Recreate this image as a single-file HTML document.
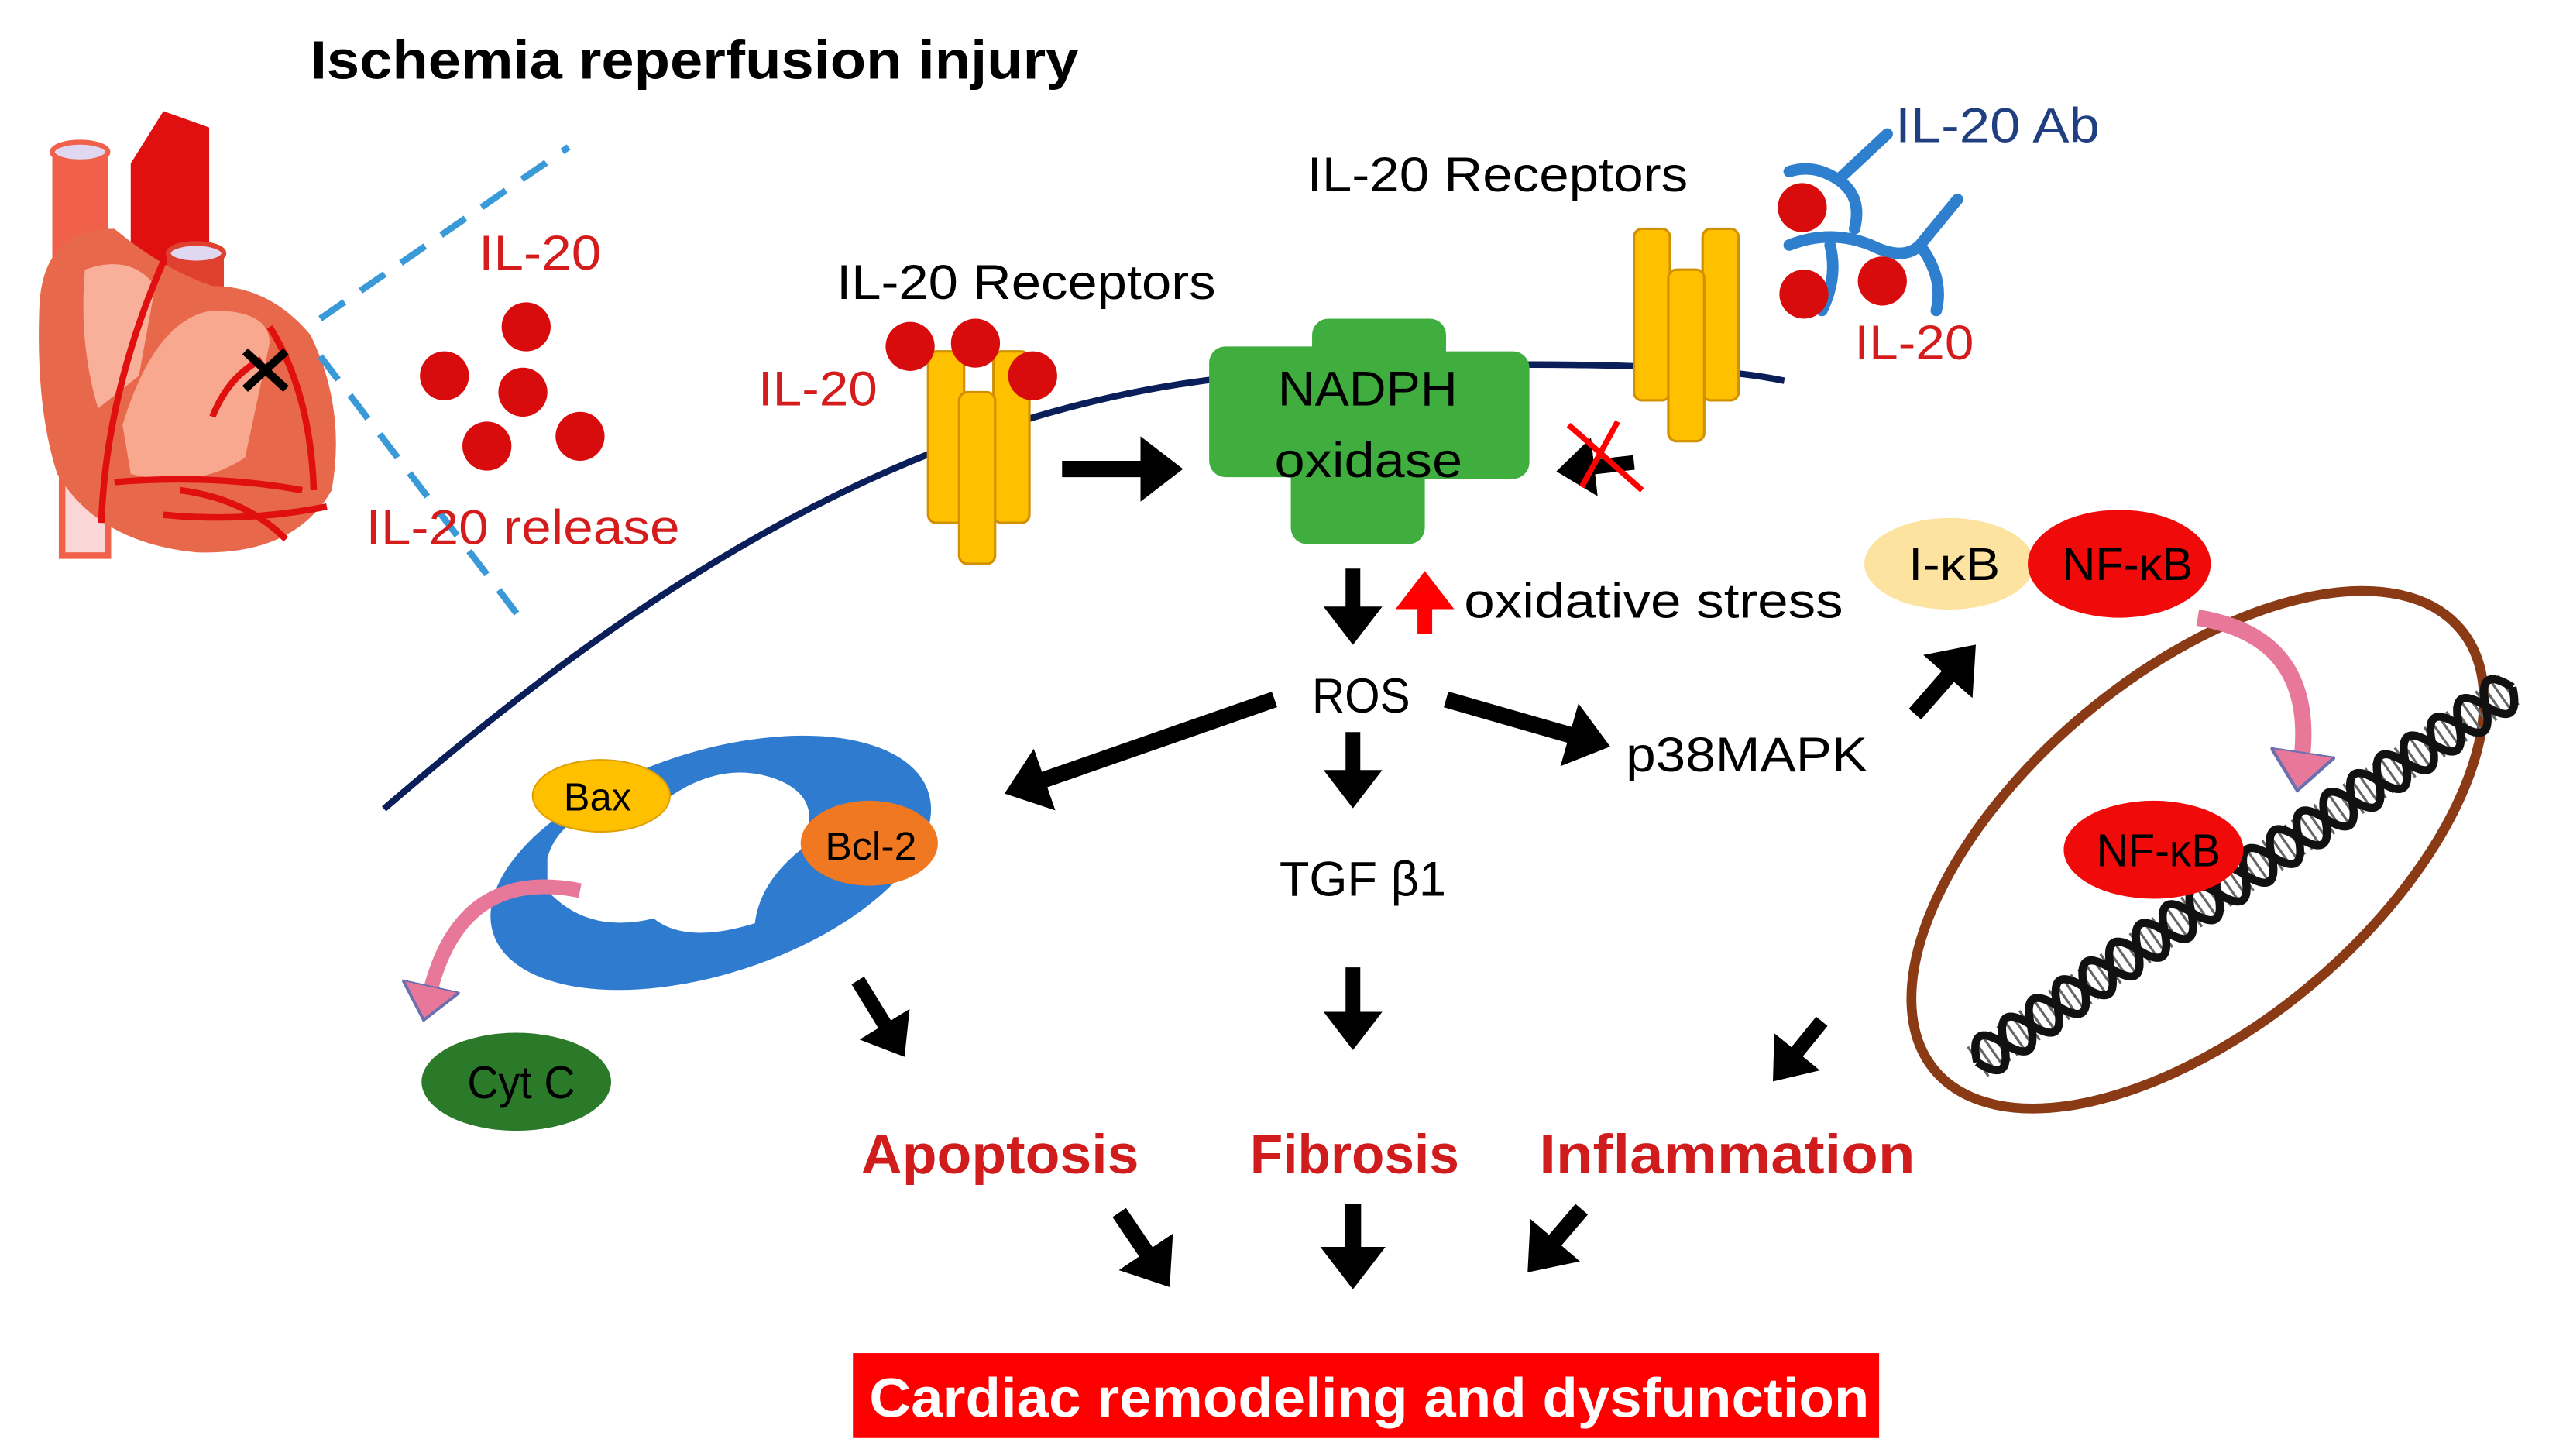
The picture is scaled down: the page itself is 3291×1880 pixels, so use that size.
<!DOCTYPE html>
<html><head><meta charset="utf-8"><style>
html,body{margin:0;padding:0;background:#fff;}
svg{display:block;}
text{font-family:"Liberation Sans Narrow","Liberation Sans",sans-serif;}
</style></head><body>
<svg width="3291" height="1880" viewBox="0 0 1560 891" preserveAspectRatio="none" xmlns="http://www.w3.org/2000/svg">
<defs>
<marker id="ah" markerWidth="4" markerHeight="4" refX="1.2" refY="2" orient="auto" markerUnits="strokeWidth"><path d="M0,0 L2.6,2 L0,4 Z" fill="#000"/></marker>
<marker id="ahr" markerWidth="4" markerHeight="4" refX="1.2" refY="2" orient="auto" markerUnits="strokeWidth"><path d="M0,0 L2.6,2 L0,4 Z" fill="#f00"/></marker>
<marker id="ahp" markerWidth="4" markerHeight="4" refX="1" refY="2" orient="auto" markerUnits="strokeWidth"><path d="M0,0 L2.4,2 L0,4 Z" fill="#e8789a" stroke="#6a6fb0" stroke-width="0.2"/></marker>
</defs>

<text x="190" y="48" font-size="33" font-weight="bold" textLength="470" lengthAdjust="spacingAndGlyphs">Ischemia reperfusion injury</text>

<!-- heart -->
<g>
<rect x="32" y="92" width="34" height="115" fill="#f0604a"/>
<ellipse cx="49" cy="93" rx="17" ry="6" fill="#e0d8f0" stroke="#f0604a" stroke-width="3"/>
<path d="M80,100 L100,68 L128,78 L128,200 L80,200 Z" fill="#e01010"/>
<rect x="38" y="280" width="28" height="60" fill="#fbd6d6" stroke="#f0604a" stroke-width="4"/>
<rect x="102" y="155" width="35" height="40" fill="#e04030"/>
<ellipse cx="120" cy="155" rx="17" ry="6" fill="#e0d8f0" stroke="#e04030" stroke-width="3"/>
<path d="M24,190 Q25,140 70,140 Q100,165 130,175 Q165,175 190,205 Q212,250 203,300 Q180,340 120,338 Q60,332 35,290 Q22,250 24,190 Z" fill="#e8684c"/>
<path d="M52,165 Q80,155 95,175 L85,230 L60,250 Q48,210 52,165 Z" fill="#f9b09a"/>
<path d="M75,260 Q95,195 130,190 Q165,190 165,210 L150,280 Q120,300 80,290 Z" fill="#f9a890"/>
<path d="M62,320 Q65,240 100,160 M70,295 Q130,290 185,300 M100,315 Q150,320 200,310 M165,200 Q190,240 192,300 M160,220 Q140,230 130,255 M110,300 Q150,305 175,330" stroke="#e01010" stroke-width="4" fill="none"/>
<path d="M150,215 L175,238 M175,215 L150,238" stroke="#000" stroke-width="5"/>
</g>

<!-- dashed lines -->
<path d="M196,195 L348,90" stroke="#3a9ad8" stroke-width="4" stroke-dasharray="18,12" fill="none"/>
<path d="M196,218 L322,383" stroke="#3a9ad8" stroke-width="4" stroke-dasharray="18,12" fill="none"/>

<text x="293" y="165" font-size="30" fill="#d41c1c" textLength="75" lengthAdjust="spacingAndGlyphs">IL-20</text>
<g fill="#d80c0c"><circle cx="322" cy="200" r="15"/><circle cx="272" cy="230" r="15"/><circle cx="320" cy="240" r="15"/><circle cx="298" cy="273" r="15"/><circle cx="355" cy="267" r="15"/></g>
<text x="224" y="333" font-size="30" fill="#d41c1c" textLength="192" lengthAdjust="spacingAndGlyphs">IL-20 release</text>

<!-- membrane -->
<path d="M235,495 C380,370 560,240 790,228 C920,220 1040,222 1092,233" stroke="#0a1e5a" stroke-width="4" fill="none"/>

<!-- left receptors -->
<g fill="#ffc000" stroke="#d09000" stroke-width="1.5">
<rect x="568" y="215" width="22" height="105" rx="5"/>
<rect x="608" y="215" width="22" height="105" rx="5"/>
<rect x="587" y="240" width="22" height="105" rx="5"/>
</g>
<g fill="#d80c0c"><circle cx="557" cy="212" r="15"/><circle cx="597" cy="210" r="15"/><circle cx="632" cy="230" r="15"/></g>
<text x="512" y="183" font-size="30" fill="#000" textLength="232" lengthAdjust="spacingAndGlyphs">IL-20 Receptors</text>
<text x="464" y="248" font-size="30" fill="#d41c1c" textLength="73" lengthAdjust="spacingAndGlyphs">IL-20</text>

<line x1="650" y1="287" x2="710" y2="287" stroke="#000" stroke-width="10" marker-end="url(#ah)"/>

<!-- NADPH -->
<g fill="#3fae3f">
<rect x="740" y="212" width="120" height="80" rx="10"/>
<rect x="803" y="195" width="82" height="65" rx="10"/>
<rect x="850" y="215" width="86" height="78" rx="10"/>
<rect x="790" y="255" width="82" height="78" rx="10"/>
</g>
<text x="782" y="248" font-size="30" fill="#000" textLength="110" lengthAdjust="spacingAndGlyphs">NADPH</text>
<text x="780" y="292" font-size="30" fill="#000" textLength="115" lengthAdjust="spacingAndGlyphs">oxidase</text>

<!-- blocked arrow -->
<line x1="1000" y1="283" x2="965" y2="287" stroke="#000" stroke-width="9" marker-end="url(#ah)"/>
<path d="M960,260 L1005,300 M990,258 L968,298" stroke="#f00" stroke-width="3.5"/>

<!-- right receptors -->
<g fill="#ffc000" stroke="#d09000" stroke-width="1.5">
<rect x="1000" y="140" width="22" height="105" rx="5"/>
<rect x="1042" y="140" width="22" height="105" rx="5"/>
<rect x="1021" y="165" width="22" height="105" rx="5"/>
</g>
<text x="800" y="117" font-size="30" fill="#000" textLength="233" lengthAdjust="spacingAndGlyphs">IL-20 Receptors</text>
<text x="1160" y="87" font-size="30" fill="#1f3f80" textLength="125" lengthAdjust="spacingAndGlyphs">IL-20 Ab</text>
<g stroke="#2f7fcf" stroke-width="7" fill="none" stroke-linecap="round">
<path d="M1095,105 Q1110,100 1125,110 L1155,82 M1125,110 Q1140,120 1135,140"/>
<path d="M1095,150 Q1120,140 1145,150 Q1165,160 1175,150 L1198,122 M1175,150 Q1190,170 1185,190 M1120,150 Q1125,170 1115,190"/>
</g>
<g fill="#d80c0c"><circle cx="1103" cy="127" r="15"/><circle cx="1104" cy="180" r="15"/><circle cx="1152" cy="172" r="15"/></g>
<text x="1135" y="220" font-size="30" fill="#d41c1c" textLength="73" lengthAdjust="spacingAndGlyphs">IL-20</text>

<!-- ROS region -->
<line x1="828" y1="348" x2="828" y2="382" stroke="#000" stroke-width="9" marker-end="url(#ah)"/>
<line x1="872" y1="388" x2="872" y2="362" stroke="#f00" stroke-width="9" marker-end="url(#ahr)"/>
<text x="896" y="378" font-size="30" fill="#000" textLength="232" lengthAdjust="spacingAndGlyphs">oxidative stress</text>
<text x="803" y="436" font-size="30" fill="#000" textLength="60" lengthAdjust="spacingAndGlyphs">ROS</text>
<line x1="780" y1="428" x2="628" y2="481" stroke="#000" stroke-width="10" marker-end="url(#ah)"/>
<line x1="828" y1="448" x2="828" y2="482" stroke="#000" stroke-width="9" marker-end="url(#ah)"/>
<line x1="885" y1="428" x2="972" y2="453" stroke="#000" stroke-width="10" marker-end="url(#ah)"/>
<text x="995" y="472" font-size="30" fill="#000" textLength="148" lengthAdjust="spacingAndGlyphs">p38MAPK</text>
<line x1="1172" y1="437" x2="1200" y2="405" stroke="#000" stroke-width="10" marker-end="url(#ah)"/>

<!-- NF-kB top -->
<ellipse cx="1193" cy="345" rx="52" ry="28" fill="#fde3a0"/>
<ellipse cx="1297" cy="345" rx="56" ry="33" fill="#f00a0a"/>
<text x="1168" y="355" font-size="28" fill="#000" textLength="56" lengthAdjust="spacingAndGlyphs">I-κB</text>
<text x="1262" y="355" font-size="28" fill="#000" textLength="80" lengthAdjust="spacingAndGlyphs">NF-κB</text>

<!-- nucleus -->
<ellipse cx="1345" cy="520" rx="210" ry="108" transform="rotate(-40 1345 520)" fill="none" stroke="#8a3a14" stroke-width="6"/>
<g transform="translate(1210,650) rotate(-35)">
<line x1="0" y1="0" x2="400" y2="0" stroke="#666" stroke-width="22" stroke-dasharray="1.5,4"/>
<path d="M0,0 Q10,-24 20,0 T40,0 T60,0 T80,0 T100,0 T120,0 T140,0 T160,0 T180,0 T200,0 T220,0 T240,0 T260,0 T280,0 T300,0 T320,0 T340,0 T360,0 T380,0 T400,0" stroke="#111" stroke-width="5" fill="none"/>
<path d="M0,0 Q10,24 20,0 T40,0 T60,0 T80,0 T100,0 T120,0 T140,0 T160,0 T180,0 T200,0 T220,0 T240,0 T260,0 T280,0 T300,0 T320,0 T340,0 T360,0 T380,0 T400,0" stroke="#111" stroke-width="5" fill="none"/>
</g>
<ellipse cx="1318" cy="520" rx="55" ry="30" fill="#f00a0a"/>
<text x="1283" y="530" font-size="28" fill="#000" textLength="76" lengthAdjust="spacingAndGlyphs">NF-κB</text>
<path d="M1345,378 Q1420,390 1408,470" stroke="#e8789a" stroke-width="10" fill="none" marker-end="url(#ahp)"/>

<!-- mitochondrion -->
<ellipse cx="435" cy="528" rx="140" ry="68" transform="rotate(-18 435 528)" fill="#2e7bd0"/>
<path d="M335,525 Q345,490 400,495 Q440,462 478,478 Q505,490 490,520 Q465,540 462,565 Q420,578 400,562 Q360,572 335,545 Z" fill="#fff"/>
<ellipse cx="368" cy="487" rx="42" ry="22" fill="#ffc000" stroke="#e0a000"/>
<text x="345" y="496" font-size="24" fill="#000">Bax</text>
<ellipse cx="532" cy="516" rx="42" ry="26" fill="#f07820"/>
<text x="505" y="526" font-size="24" fill="#000" textLength="56" lengthAdjust="spacingAndGlyphs">Bcl-2</text>
<path d="M355,545 Q280,530 262,612" stroke="#e8789a" stroke-width="9" fill="none" marker-end="url(#ahp)"/>
<ellipse cx="316" cy="662" rx="58" ry="30" fill="#2a7a2a"/>
<text x="286" y="672" font-size="28" fill="#000" textLength="66" lengthAdjust="spacingAndGlyphs">Cyt C</text>

<text x="783" y="548" font-size="30" fill="#000" textLength="102" lengthAdjust="spacingAndGlyphs">TGF β1</text>

<line x1="525" y1="600" x2="547" y2="636" stroke="#000" stroke-width="9" marker-end="url(#ah)"/>
<line x1="828" y1="592" x2="828" y2="630" stroke="#000" stroke-width="9" marker-end="url(#ah)"/>
<line x1="1115" y1="625" x2="1093" y2="652" stroke="#000" stroke-width="9" marker-end="url(#ah)"/>

<text x="527" y="718" font-size="34" font-weight="bold" fill="#d01c1c" textLength="170" lengthAdjust="spacingAndGlyphs">Apoptosis</text>
<text x="765" y="718" font-size="34" font-weight="bold" fill="#d01c1c" textLength="128" lengthAdjust="spacingAndGlyphs">Fibrosis</text>
<text x="942" y="718" font-size="34" font-weight="bold" fill="#d01c1c" textLength="230" lengthAdjust="spacingAndGlyphs">Inflammation</text>

<line x1="685" y1="742" x2="708" y2="776" stroke="#000" stroke-width="10" marker-end="url(#ah)"/>
<line x1="828" y1="737" x2="828" y2="775" stroke="#000" stroke-width="10" marker-end="url(#ah)"/>
<line x1="968" y1="740" x2="944" y2="768" stroke="#000" stroke-width="10" marker-end="url(#ah)"/>

<rect x="522" y="828" width="628" height="52" fill="#f00"/>
<text x="532" y="867" font-size="34" font-weight="bold" fill="#fff" textLength="612" lengthAdjust="spacingAndGlyphs">Cardiac remodeling and dysfunction</text>
</svg>
</body></html>
